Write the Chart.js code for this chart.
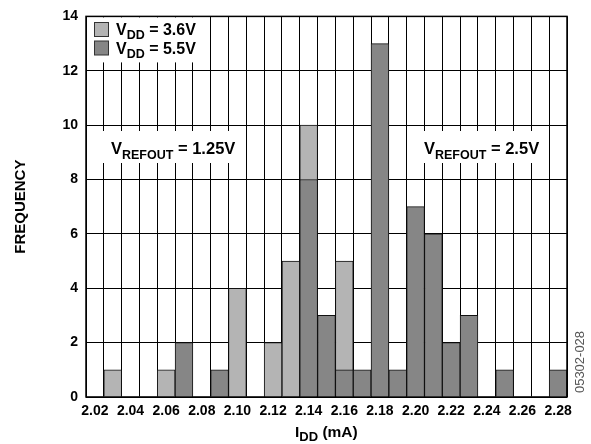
<!DOCTYPE html>
<html>
<head>
<meta charset="utf-8">
<script src="https://cdn.jsdelivr.net/npm/chart.js@4/dist/chart.umd.min.js"></script>
<style>
  html, body { margin: 0; padding: 0; background: #fff; }
  #wrap { width: 591px; height: 444px; }
</style>
</head>
<body>
<div id="wrap"><canvas id="myChart" width="591" height="444"></canvas></div>
<script>
const categories = ['2.02', '2.03', '2.04', '2.05', '2.06', '2.07', '2.08', '2.09', '2.10', '2.11', '2.12', '2.13', '2.14', '2.15',
  '2.16', '2.17', '2.18', '2.19', '2.20', '2.21', '2.22', '2.23', '2.24', '2.25', '2.26', '2.27', '2.28'];
const vdd36 = [0, 1, 0, 0, 1, 0, 0, 0, 4, 0, 2, 5, 10, 0, 5, 0, 0, 0, 0, 0, 0, 0, 0, 0, 0, 0, 0];
const vdd55 = [0, 0, 0, 0, 0, 2, 0, 1, 0, 0, 0, 0, 8, 3, 1, 1, 13, 1, 7, 6, 2, 3, 0, 1, 0, 0, 1];
const yTicks = [0, 2, 4, 6, 8, 10, 12, 14];

const FONT = "'Liberation Sans', Arial, sans-serif";
const LIGHT = '#b4b4b4';
const DARK = '#868686';

// draws text pieces, some of them as subscripts
function drawSub(ctx, parts, x, y, size, subSize) {
  let cx = x;
  parts.forEach(function(p) {
    const s = p[1] ? subSize : size;
    ctx.font = 'bold ' + s + 'px ' + FONT;
    ctx.fillText(p[0], cx, p[1] ? y + size * 0.28 : y);
    cx += ctx.measureText(p[0]).width;
  });
}

const overlay = {
  id: 'overlay',
  afterDatasetsDraw(chart) {
    const ctx = chart.ctx;
    const a = chart.chartArea;
    ctx.save();
    // white boxes behind legend and notes
    ctx.fillStyle = '#fff';
    ctx.fillRect(a.left + 1, a.top + 1, 123, 45);
    ctx.fillRect(101, 131, 142, 32);
    ctx.fillRect(416, 131, 132, 32);

    // legend
    [[LIGHT, 22.5, '3.6V'], [DARK, 41, '5.5V']].forEach(function(r) {
      ctx.fillStyle = r[0];
      ctx.fillRect(94.5, r[1], 14, 14);
      ctx.strokeStyle = '#333';
      ctx.lineWidth = 1;
      ctx.strokeRect(94.5, r[1], 14, 14);
      ctx.fillStyle = '#000';
      ctx.textBaseline = 'alphabetic';
      ctx.textAlign = 'left';
      drawSub(ctx, [['V'], ['DD', true], [' = ' + r[2]]], 116, r[1] + 12.5, 16, 12.5);
    });

    // notes
    ctx.fillStyle = '#000';
    drawSub(ctx, [['V'], ['REFOUT', true], [' = 1.25V']], 111, 154, 16.5, 12.5);
    drawSub(ctx, [['V'], ['REFOUT', true], [' = 2.5V']], 424, 154, 16.5, 12.5);

    // frame
    ctx.strokeStyle = '#000';
    ctx.lineWidth = 1.5;
    ctx.strokeRect(a.left, a.top, a.right - a.left, a.bottom - a.top);

    // axis titles
    drawSub(ctx, [['I'], ['DD', true], [' (mA)']], 295, 437, 15.5, 13);
    ctx.translate(25, (a.top + a.bottom) / 2);
    ctx.rotate(-Math.PI / 2);
    ctx.textAlign = 'center';
    ctx.font = 'bold 15px ' + FONT;
    ctx.fillText('FREQUENCY', 0, 0);
    ctx.restore();

    ctx.save();
    ctx.translate(584, 362);
    ctx.rotate(-Math.PI / 2);
    ctx.textAlign = 'center';
    ctx.fillStyle = '#555';
    ctx.font = '13px ' + FONT;
    ctx.fillText('05302-028', 0, 0);
    ctx.restore();
  }
};

const ctx = document.getElementById('myChart').getContext('2d');

new Chart(ctx, {
  type: 'bar',
  data: {
    labels: categories,
    datasets: [{
      label: 'VDD = 3.6V',
      data: vdd36,
      backgroundColor: LIGHT,
      borderColor: '#111',
      borderWidth: function(c) { return c.raw ? 1 : 0; },
      order: 2
    }, {
      label: 'VDD = 5.5V',
      data: vdd55,
      backgroundColor: DARK,
      borderColor: '#111',
      borderWidth: function(c) { return c.raw ? 1 : 0; },
      order: 1
    }]
  },
  options: {
    responsive: false,
    animation: false,
    devicePixelRatio: 1,
    layout: { padding: { left: 0, top: 13, right: 24, bottom: 0 } },
    datasets: {
      bar: { grouped: false, barPercentage: 1, categoryPercentage: 1 }
    },
    plugins: {
      legend: { display: false },
      tooltip: { enabled: false }
    },
    scales: {
      x: {
        grid: { color: '#000', lineWidth: 1, drawTicks: false, offset: true },
        border: { display: false },
        ticks: {
          autoSkip: false,
          maxRotation: 0,
          padding: 6,
          color: '#000',
          font: { family: FONT, size: 14, weight: 'bold' },
          callback: function(v, i) { return i % 2 === 0 ? categories[i] : ''; }
        },
        afterFit: function(s) { s.height = 47; }
      },
      y: {
        min: 0,
        max: 14,
        grid: { color: '#000', lineWidth: 1, drawTicks: false },
        border: { display: false },
        afterBuildTicks: function(s) { s.ticks = yTicks.map(function(v) { return { value: v }; }); },
        ticks: {
          padding: 8,
          color: '#000',
          font: { family: FONT, size: 14, weight: 'bold' }
        },
        afterFit: function(s) { s.width = 86; }
      }
    }
  },
  plugins: [overlay]
});
</script>
</body>
</html>
